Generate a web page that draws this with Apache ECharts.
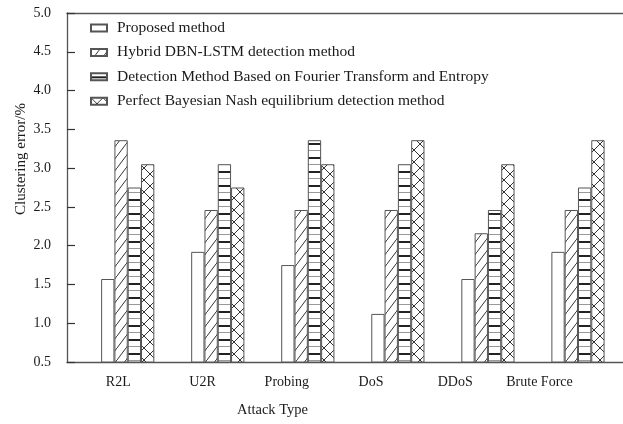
<!DOCTYPE html>
<html>
<head>
<meta charset="utf-8">
<script src="https://cdn.jsdelivr.net/npm/echarts@6/dist/echarts.min.js"></script>
<style>
  html, body { margin: 0; padding: 0; background: #fff; }
  #chart { width: 623px; height: 424px; }
</style>
</head>
<body>
<div id="chart"></div>
<script>
// Attack categories on the x axis
const categories = ['R2L', 'U2R', 'Probing', 'DoS', 'DDoS', 'Brute Force'];

// Method names (legend order)
const methodNames = [
  'Proposed method',
  'Hybrid DBN-LSTM detection method',
  'Detection Method Based on Fourier Transform and Entropy',
  'Perfect Bayesian Nash equilibrium detection method'
];

// Clustering error (%) per attack type
const proposedValues = [1.57, 1.92, 1.75, 1.12, 1.57, 1.92];
const hybridValues   = [3.36, 2.46, 2.46, 2.46, 2.16, 2.46];
const fourierValues  = [2.75, 3.05, 3.36, 3.05, 2.46, 2.75];
const bayesValues    = [3.05, 2.75, 3.05, 3.36, 3.05, 3.36];

const FONT = "'Liberation Serif', 'Times New Roman', serif";

// Small repeating canvas tiles used as hatch fills
function tile(w, h, draw) {
  const c = document.createElement('canvas');
  c.width = w; c.height = h;
  const g = c.getContext('2d');
  g.fillStyle = '#fff';
  g.fillRect(0, 0, w, h);
  draw(g, w, h);
  return { image: c, repeat: 'repeat' };
}

// forward-slash hatching
const diagonalFill = tile(9, 12, (g, w, h) => {
  g.strokeStyle = '#333';
  g.lineWidth = 1;
  g.beginPath();
  g.moveTo(-w * 0.1, h * 1.1); g.lineTo(w * 1.1, -h * 0.1);
  g.stroke();
});

// alternating heavy / light horizontal rules
const stripeFill = tile(4, 14, (g, w) => {
  g.fillStyle = '#222';
  g.fillRect(0, 3, w, 2);
  g.fillStyle = '#999';
  g.fillRect(0, 10, w, 1);
});

// diamond cross-hatching
const crossFill = tile(12, 12, (g, w, h) => {
  g.strokeStyle = '#333';
  g.lineWidth = 1;
  g.beginPath();
  g.moveTo(-1, -1); g.lineTo(w + 1, h + 1);
  g.moveTo(w + 1, -1); g.lineTo(-1, h + 1);
  g.stroke();
});

const fills = ['#fff', diagonalFill, stripeFill, crossFill];
const valueSets = [proposedValues, hybridValues, fourierValues, bayesValues];

const yMin = 0.5, yMax = 5.0;
const plotTop = 13, plotBottom = 62;

const chart = echarts.init(document.getElementById('chart'), null, { renderer: 'canvas' });

chart.setOption({
  animation: false,
  backgroundColor: '#fff',
  textStyle: { fontFamily: FONT },
  grid: [
    // frame and y axis
    { left: 67, right: 0, top: plotTop, bottom: plotBottom },
    // bar groups
    { left: 82.7, right: -5, top: plotTop, bottom: plotBottom },
    // category labels
    { left: 76.2, right: 41.4, top: plotTop, bottom: plotBottom }
  ],
  xAxis: [
    {
      gridIndex: 0, type: 'category', data: categories, position: 'bottom',
      axisLine: { show: true, lineStyle: { color: '#555', width: 1.3 } },
      axisTick: { show: false }, axisLabel: { show: false }, splitLine: { show: false }
    },
    {
      gridIndex: 0, type: 'category', data: categories, position: 'top',
      axisLine: { show: true, lineStyle: { color: '#555', width: 1.3 } },
      axisTick: { show: false }, axisLabel: { show: false }, splitLine: { show: false }
    },
    {
      gridIndex: 1, type: 'category', data: categories, show: false
    },
    {
      gridIndex: 2, type: 'category', data: categories, position: 'bottom',
      axisLine: { show: false }, axisTick: { show: false }, splitLine: { show: false },
      axisLabel: { show: true, interval: 0, margin: 13, color: '#1a1a1a', fontSize: 14, fontFamily: FONT }
    }
  ],
  yAxis: [
    {
      gridIndex: 0, type: 'value', min: yMin, max: yMax, interval: 0.5,
      axisLine: { show: true, lineStyle: { color: '#555', width: 1.3 } },
      axisTick: { show: false },
      splitLine: { show: false },
      axisLabel: {
        margin: 16, color: '#1a1a1a', fontSize: 14, fontFamily: FONT,
        formatter: v => v.toFixed(1)
      }
    },
    { gridIndex: 1, type: 'value', min: yMin, max: yMax, show: false },
    { gridIndex: 2, type: 'value', min: yMin, max: yMax, show: false },
    // tick marks pointing into the plot
    {
      gridIndex: 0, type: 'value', min: yMin, max: yMax, interval: 0.5,
      position: 'left', offset: -8,
      axisLine: { show: false },
      axisTick: { show: true, length: 8, lineStyle: { color: '#333', width: 1.2 } },
      axisLabel: { show: false }, splitLine: { show: false }
    }
  ],
  legend: {
    orient: 'vertical',
    left: 85,
    top: 15,
    itemWidth: 16,
    itemHeight: 7,
    itemGap: 8.4,
    icon: 'rect',
    selectedMode: false,
    textStyle: {
      fontFamily: FONT, fontSize: 15.5, color: '#1a1a1a', lineHeight: 16,
      padding: [0, 0, 0, 5]
    },
    data: methodNames
  },
  series: methodNames.map((name, i) => ({
    name,
    type: 'bar',
    xAxisIndex: 2,
    yAxisIndex: 1,
    data: valueSets[i],
    barWidth: 13.3,
    barGap: '0%',
    itemStyle: { color: fills[i], borderColor: '#555', borderWidth: 1 },
    emphasis: { disabled: true }
  })),
  graphic: [
    {
      type: 'text', x: 272.5, y: 410,
      style: {
        text: 'Attack Type', align: 'center', verticalAlign: 'middle',
        font: "14.5px 'Liberation Serif', 'Times New Roman', serif", fill: '#1a1a1a'
      }
    },
    {
      type: 'text', x: 21, y: 159, rotation: Math.PI / 2,
      style: {
        text: 'Clustering error/%', align: 'center', verticalAlign: 'middle',
        font: "15px 'Liberation Serif', 'Times New Roman', serif", fill: '#1a1a1a'
      }
    }
  ]
});
</script>
</body>
</html>
